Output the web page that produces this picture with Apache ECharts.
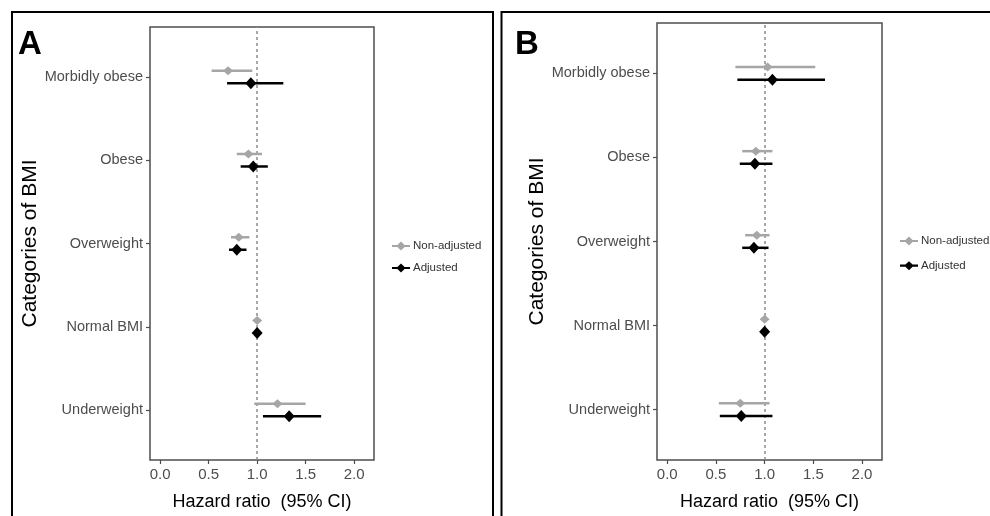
<!DOCTYPE html>
<html>
<head>
<meta charset="utf-8">
<script src="https://cdn.jsdelivr.net/npm/echarts@6/dist/echarts.min.js"></script>
<style>
html,body{margin:0;padding:0;background:#fff;}
#main{width:990px;height:516px;}
</style>
</head>
<body>
<div id="main"></div>
<script>
// Categories, listed from bottom (position 1) to top (position 5)
const categories = ['Underweight', 'Normal BMI', 'Overweight', 'Obese', 'Morbidly obese'];
const xTicks = [0, 0.5, 1, 1.5, 2];
const seriesNames = ['Non-adjusted', 'Adjusted'];

// Panel A
const aNonAdjHR = [1.21, 1.00, 0.81, 0.91, 0.70];
const aNonAdjLo = [0.97, 1.00, 0.73, 0.79, 0.53];
const aNonAdjHi = [1.50, 1.00, 0.92, 1.05, 0.95];
const aAdjHR    = [1.33, 1.00, 0.79, 0.96, 0.935];
const aAdjLo    = [1.06, 1.00, 0.71, 0.83, 0.69];
const aAdjHi    = [1.66, 1.00, 0.89, 1.11, 1.27];

// Panel B
const bNonAdjHR = [0.75, 1.00, 0.92, 0.91, 1.03];
const bNonAdjLo = [0.53, 1.00, 0.80, 0.77, 0.70];
const bNonAdjHi = [1.05, 1.00, 1.05, 1.08, 1.52];
const bAdjHR    = [0.76, 1.00, 0.89, 0.90, 1.08];
const bAdjLo    = [0.54, 1.00, 0.77, 0.745, 0.72];
const bAdjHi    = [1.08, 1.00, 1.04, 1.08, 1.62];

const FONT = '"Liberation Sans", Arial, sans-serif';
const GRAY = '#a6a6a6';
const BLACK = '#000000';
const DODGE = 0.075;
const catPos = categories.map((c, i) => i + 1);

function pointData(hr, offset) {
  return hr.map((v, i) => [v, catPos[i] + offset]);
}
function barData(lo, hi, offset) {
  return lo.map((v, i) => [v, hi[i], catPos[i] + offset]);
}
function errorSeries(name, idx, lo, hi, offset, color) {
  return {
    type: 'custom', name: name, xAxisIndex: idx, yAxisIndex: idx, z: 3,
    itemStyle: { color: color },
    data: barData(lo, hi, offset),
    renderItem: function (params, api) {
      const y = api.value(2);
      const p1 = api.coord([api.value(0), y]);
      const p2 = api.coord([api.value(1), y]);
      return { type: 'line', shape: { x1: p1[0], y1: p1[1], x2: p2[0], y2: p2[1] },
               style: { stroke: color, lineWidth: 2.5 } };
    }
  };
}
function pointSeries(name, idx, hr, offset, color, size, withRef) {
  const s = {
    type: 'scatter', name: name, xAxisIndex: idx, yAxisIndex: idx, z: 5,
    symbol: 'diamond', symbolSize: size,
    itemStyle: { color: color, opacity: 1 },
    data: pointData(hr, offset)
  };
  if (withRef) {
    s.markLine = {
      silent: true, symbol: 'none', label: { show: false }, z: 1,
      lineStyle: { color: '#8c8c8c', type: [3, 3], width: 1.5 },
      data: [{ xAxis: 1 }]
    };
  }
  return s;
}
function xAxisDef(idx) {
  return {
    type: 'value', gridIndex: idx, min: -0.105, max: 2.205,
    splitLine: { show: false },
    axisLine: { show: false, onZero: false },
    axisTick: { show: true, inside: false, length: 4, lineStyle: { color: '#4d4d4d', width: 1.2 }, customValues: xTicks },
    axisLabel: { customValues: xTicks, formatter: v => v.toFixed(1), color: '#4d4d4d', fontSize: 15, fontFamily: FONT, margin: 7 },
    name: 'Hazard ratio  (95% CI)', nameLocation: 'middle', nameGap: 33,
    nameTextStyle: { color: '#000', fontSize: 18, fontFamily: FONT }
  };
}
function yAxisDef(idx, gap) {
  return {
    type: 'value', gridIndex: idx, min: 0.4, max: 5.6,
    splitLine: { show: false },
    axisLine: { show: false, onZero: false },
    axisTick: { show: true, inside: false, length: 4, lineStyle: { color: '#4d4d4d', width: 1.2 }, customValues: catPos },
    axisLabel: { customValues: catPos, formatter: v => categories[Math.round(v) - 1] || '', color: '#4d4d4d', fontSize: 14.5, fontFamily: FONT, margin: 7 },
    name: 'Categories of BMI', nameLocation: 'middle', nameGap: gap, nameRotate: 90,
    nameTextStyle: { color: '#000', fontSize: 21, fontFamily: FONT }
  };
}
const legendIcon = 'path://M0,3.8 L6,3.8 L10,0 L14,3.8 L20,3.8 L20,6.2 L14,6.2 L10,10 L6,6.2 L0,6.2 Z';
function legendDef(left, top, gap, w) {
  return {
    left: left, top: top, padding: 0, orient: 'vertical', itemGap: gap, itemWidth: w, itemHeight: 10,
    icon: legendIcon,
    textStyle: { fontSize: 11.5, color: '#333', fontFamily: FONT, padding: [0, 0, 0, -2] },
    data: [{ name: 'Non-adjusted', itemStyle: { color: GRAY } }, { name: 'Adjusted', itemStyle: { color: BLACK } }]
  };
}

const chart = echarts.init(document.getElementById('main'));
chart.setOption({
  animation: false,
  backgroundColor: '#fff',
  grid: [
    { left: 150, top: 27, right: 616, bottom: 48, show: true, borderColor: '#4d4d4d', borderWidth: 1.5, backgroundColor: '#fff' },
    { left: 657, top: 23, right: 108, bottom: 53, show: true, borderColor: '#4d4d4d', borderWidth: 1.5, backgroundColor: '#fff' }
  ],
  xAxis: [xAxisDef(0), xAxisDef(1)],
  yAxis: [yAxisDef(0, 109), yAxisDef(1, 109)],
  legend: [legendDef(392, 240, 10, 18), legendDef(900, 235, 12.7, 18)],
  graphic: [
    { type: 'rect', shape: { x: 12, y: 12, width: 481, height: 520 }, style: { fill: 'none', stroke: '#000', lineWidth: 2 }, z: 100 },
    { type: 'rect', shape: { x: 501.5, y: 12, width: 500, height: 520 }, style: { fill: 'none', stroke: '#000', lineWidth: 2 }, z: 100 },
    { type: 'text', left: 18, top: 28, style: { text: 'A', fontSize: 33, fontWeight: 900, fill: '#000', fontFamily: FONT }, z: 100 },
    { type: 'text', left: 515, top: 28, style: { text: 'B', fontSize: 33, fontWeight: 900, fill: '#000', fontFamily: FONT }, z: 100 }
  ],
  series: [
    errorSeries(seriesNames[0], 0, aNonAdjLo, aNonAdjHi, DODGE, GRAY),
    errorSeries(seriesNames[1], 0, aAdjLo, aAdjHi, -DODGE, BLACK),
    pointSeries(seriesNames[0], 0, aNonAdjHR, DODGE, GRAY, [10, 9], true),
    pointSeries(seriesNames[1], 0, aAdjHR, -DODGE, BLACK, [11, 12], false),
    errorSeries(seriesNames[0], 1, bNonAdjLo, bNonAdjHi, DODGE, GRAY),
    errorSeries(seriesNames[1], 1, bAdjLo, bAdjHi, -DODGE, BLACK),
    pointSeries(seriesNames[0], 1, bNonAdjHR, DODGE, GRAY, [10, 9], true),
    pointSeries(seriesNames[1], 1, bAdjHR, -DODGE, BLACK, [11, 12], false)
  ]
});
</script>
</body>
</html>
